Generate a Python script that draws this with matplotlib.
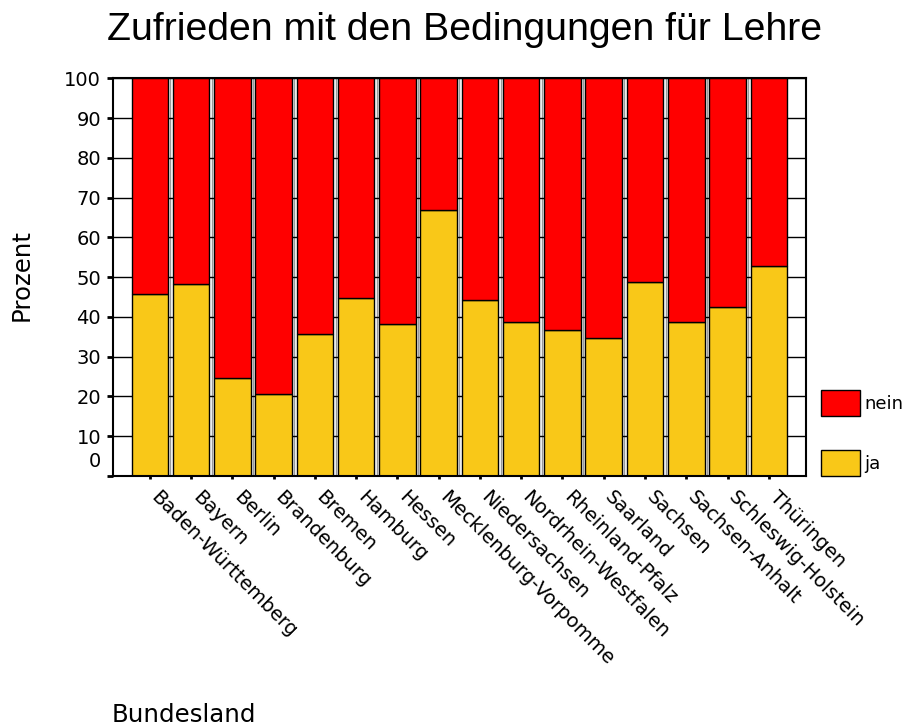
import matplotlib

matplotlib.use("Agg")
import matplotlib.pyplot as plt
from matplotlib.ticker import FixedLocator
from matplotlib.transforms import Affine2D

plt.rcParams["font.family"] = ["DejaVu Sans"]

# Values (percent).
laender = [
    "Baden-Württemberg", "Bayern", "Berlin", "Brandenburg", "Bremen", "Hamburg",
    "Hessen", "Mecklenburg-Vorpomme", "Niedersachsen", "Nordrhein-Westfalen",
    "Rheinland-Pfalz", "Saarland", "Sachsen", "Sachsen-Anhalt",
    "Schleswig-Holstein", "Thüringen",
]
ja = [45.7, 48.2, 24.6, 20.5, 35.6, 44.7, 38.1, 66.9, 44.3, 38.6, 36.6, 34.6, 48.7, 38.6, 42.6, 52.8]
nein = [54.3, 51.8, 75.4, 79.5, 64.4, 55.3, 61.9, 33.1, 55.7, 61.4, 63.4, 65.4, 51.3, 61.4, 57.4, 47.2]
y_ticks = [0, 10, 20, 30, 40, 50, 60, 70, 80, 90, 100]

YELLOW = "#f9c818"
RED = "#ff0000"

W, H = 904, 726
fig = plt.figure(figsize=(W / 100, H / 100), dpi=100)
ax = fig.add_axes([112.7 / W, 1 - 476 / H, (805.5 - 112.7) / W, (476 - 78.3) / H])

x = list(range(len(laender)))
b_ja = ax.bar(x, ja, 0.885, color=YELLOW, edgecolor="black", linewidth=1, label="ja", zorder=2)
b_nein = ax.bar(x, nein, 0.885, bottom=ja, color=RED, edgecolor="black", linewidth=1, label="nein", zorder=2)

ax.set_xlim(-0.9, len(laender) - 1 + 0.89)
ax.set_ylim(0, 100)

# gridlines: black horizontal, grey separators between bars
ax.set_axisbelow(True)
ax.set_yticks(y_ticks)
ax.set_yticklabels([""] + [str(t) for t in y_ticks[1:]])
ax.grid(axis="y", color="black", linewidth=1)
ax.xaxis.set_minor_locator(FixedLocator([i + 0.5 for i in x[:-1]]))
ax.grid(axis="x", which="minor", color="#9a9a9a", linewidth=1)
ax.tick_params(axis="x", which="minor", length=0)

ax.set_xticks(x)
ax.tick_params(axis="x", which="major", length=2.5, width=2, pad=6)
ax.tick_params(axis="y", length=4.3, width=2, pad=4, labelsize=14)
ax.set_xticklabels(laender, rotation=-45, ha="left", va="top", rotation_mode="anchor", fontsize=14)
for lab in ax.get_xticklabels():
    lab.set_transform(lab.get_transform() + Affine2D().translate(11, 0))

# the zero label sits a bit above its tick in the original
ax.annotate("0", xy=(0, 0), xycoords=("axes fraction", "data"), xytext=(-8.5, 10.5),
            textcoords="offset points", ha="right", va="center", fontsize=14)

for s in ax.spines.values():
    s.set_linewidth(1.5)
    s.set_color("black")

fig.text(464.5 / W, 1 - 40 / H, "Zufrieden mit den Bedingungen für Lehre",
         ha="center", va="baseline", fontsize=28.3, family="Liberation Sans")
fig.text(22 / W, 1 - 275 / H, "Prozent", rotation=90, ha="center", va="center", fontsize=17.6)
fig.text(112 / W, 1 - 722 / H, "Bundesland", ha="left", va="baseline", fontsize=17.6)

fig.legend([b_nein, b_ja], ["nein", "ja"], loc="upper left",
           bbox_to_anchor=(821 / W, 1 - 390 / H), bbox_transform=fig.transFigure,
           frameon=False, borderpad=0, borderaxespad=0, fontsize=13,
           handlelength=2.15, handleheight=1.8, labelspacing=1.92, handletextpad=0.25)

fig.savefig("out.png", dpi=100)
